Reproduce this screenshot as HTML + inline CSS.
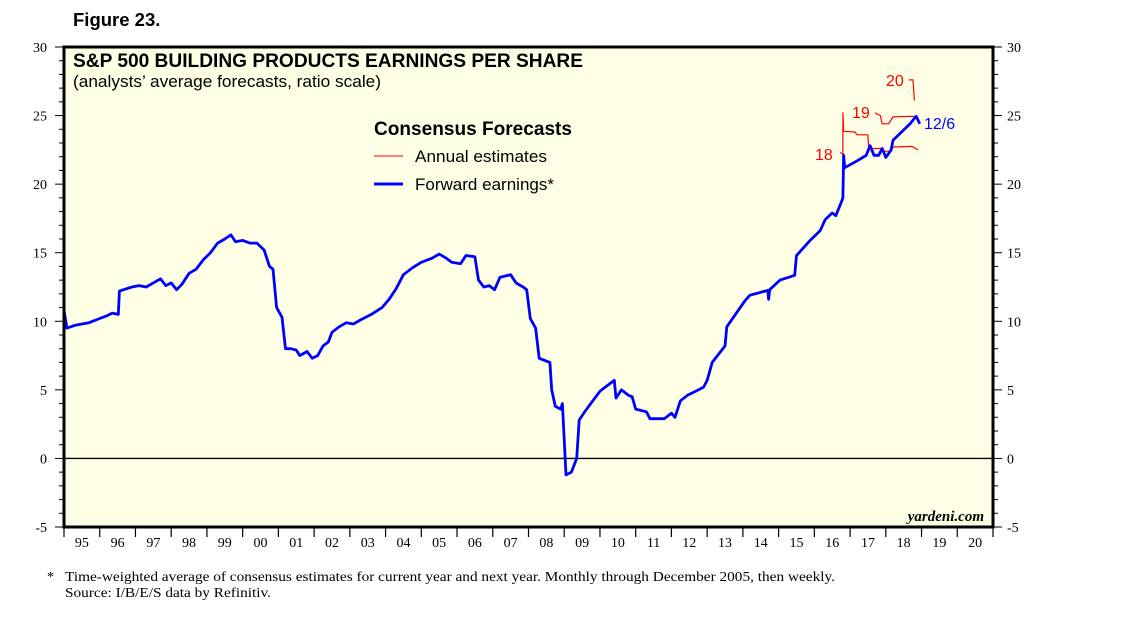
<!DOCTYPE html>
<html><head><meta charset="utf-8"><style>
body{margin:0;background:#fff;}
svg{display:block;font-family:"Liberation Sans",sans-serif;}
.serif{font-family:"Liberation Serif",serif;}
</style></head><body>
<svg id="c" width="1138" height="621" viewBox="0 0 1138 621">
<text x="73" y="26" font-size="18.5" font-weight="bold">Figure 23.</text>
<rect x="64" y="47" width="929" height="480" fill="#FFFFE6" stroke="none"/>
<g id="ax"></g>
<g id="series"></g>
<rect x="64" y="47" width="929" height="480" fill="none" stroke="#000" stroke-width="3"/>
<text x="73" y="67" font-size="19" font-weight="bold" textLength="510" lengthAdjust="spacingAndGlyphs">S&amp;P 500 BUILDING PRODUCTS EARNINGS PER SHARE</text>
<text x="73" y="87" font-size="17" textLength="308" lengthAdjust="spacingAndGlyphs">(analysts’ average forecasts, ratio scale)</text>
<g>
<text x="374" y="135" font-size="19" font-weight="bold" textLength="198" lengthAdjust="spacingAndGlyphs">Consensus Forecasts</text>
<line x1="374" y1="156" x2="403" y2="156" stroke="#f00" stroke-width="1"/>
<text x="415" y="162" font-size="17" textLength="132" lengthAdjust="spacingAndGlyphs">Annual estimates</text>
<line x1="374" y1="184" x2="403" y2="184" stroke="#00f" stroke-width="3"/>
<text x="415" y="190" font-size="17" textLength="139" lengthAdjust="spacingAndGlyphs">Forward earnings*</text>
</g>
<text x="984" y="521" font-size="15" font-style="italic" font-weight="bold" text-anchor="end" class="serif">yardeni.com</text>
<text x="47" y="581" font-size="14" class="serif">*</text>
<text x="65" y="581" font-size="14" class="serif" textLength="770" lengthAdjust="spacingAndGlyphs">Time-weighted average of consensus estimates for current year and next year. Monthly through December 2005, then weekly.</text>
<text x="65" y="597" font-size="14" class="serif" textLength="206" lengthAdjust="spacingAndGlyphs">Source: I/B/E/S data by Refinitiv.</text>
</svg>
<script>
const yTicks=[-5,0,5,10,15,20,25,30];
const yearLabels=["95","96","97","98","99","00","01","02","03","04","05","06","07","08","09","10","11","12","13","14","15","16","17","18","19","20"];
const fwdYears=[1995.0,1995.08,1995.3,1995.5,1995.7,1996.0,1996.2,1996.35,1996.52,1996.55,1996.9,1997.1,1997.3,1997.5,1997.7,1997.85,1998.0,1998.15,1998.3,1998.5,1998.7,1998.9,1999.1,1999.3,1999.5,1999.67,1999.8,2000.0,2000.2,2000.4,2000.6,2000.75,2000.85,2000.95,2001.1,2001.2,2001.35,2001.5,2001.6,2001.8,2001.95,2002.1,2002.25,2002.4,2002.5,2002.7,2002.9,2003.1,2003.3,2003.6,2003.9,2004.1,2004.3,2004.5,2004.75,2005.0,2005.3,2005.5,2005.7,2005.85,2006.1,2006.25,2006.5,2006.6,2006.75,2006.9,2007.05,2007.2,2007.5,2007.65,2007.85,2007.95,2008.05,2008.2,2008.3,2008.6,2008.65,2008.75,2008.9,2008.95,2009.05,2009.2,2009.35,2009.42,2009.6,2009.8,2010.0,2010.25,2010.4,2010.45,2010.6,2010.8,2010.9,2011.0,2011.3,2011.4,2011.8,2012.0,2012.1,2012.25,2012.45,2012.6,2012.9,2013.0,2013.14,2013.5,2013.55,2014.06,2014.2,2014.7,2014.72,2014.75,2015.04,2015.45,2015.5,2015.88,2016.16,2016.3,2016.5,2016.6,2016.77,2016.8,2016.82,2016.85,2017.2,2017.45,2017.56,2017.67,2017.8,2017.9,2018.0,2018.15,2018.2,2018.4,2018.68,2018.8,2018.85,2018.95];
const fwdValues=[10.8,9.5,9.7,9.8,9.9,10.2,10.4,10.6,10.5,12.2,12.5,12.6,12.5,12.8,13.1,12.6,12.8,12.3,12.7,13.5,13.8,14.5,15.0,15.7,16.0,16.3,15.8,15.9,15.7,15.7,15.2,14.0,13.8,11.0,10.3,8.0,8.0,7.9,7.5,7.8,7.3,7.5,8.2,8.5,9.2,9.6,9.9,9.8,10.1,10.5,11.0,11.6,12.4,13.4,13.9,14.3,14.6,14.9,14.6,14.3,14.2,14.8,14.7,13.0,12.5,12.6,12.3,13.2,13.4,12.8,12.5,12.3,10.2,9.5,7.3,7.0,5.0,3.8,3.6,4.0,-1.2,-1.0,0.0,2.8,3.5,4.2,4.9,5.4,5.7,4.4,5.0,4.6,4.5,3.6,3.4,2.9,2.9,3.3,3.0,4.2,4.6,4.8,5.2,5.7,7.0,8.2,9.6,11.5,11.9,12.25,11.6,12.3,13.0,13.35,14.8,15.9,16.6,17.4,17.9,17.7,18.8,19.0,22.1,21.2,21.7,22.1,22.8,22.1,22.1,22.6,21.95,22.5,23.2,23.7,24.4,24.8,24.95,24.4];
const est18Years=[2016.72,2016.8,2016.8,2016.82,2017.14,2017.19,2017.5,2017.52,2017.9,2017.92,2018.12,2018.14,2018.73,2018.9];
const est18Values=[22.3,22.2,25.2,23.85,23.8,23.6,23.6,22.6,22.6,22.4,22.4,22.7,22.75,22.5];
const est19Years=[2017.7,2017.85,2017.9,2018.08,2018.2,2018.73,2018.87];
const est19Values=[25.2,25.0,24.4,24.4,24.9,24.95,24.9];
const est20Years=[2018.65,2018.76,2018.8];
const est20Values=[27.6,27.6,26.1];

const NS="http://www.w3.org/2000/svg";
const X0=64,X1=993,Y0=47,Y1=527,T0=1995,T1=2021,VMIN=-5,VMAX=30;
const xS=t=>X0+(t-T0)/(T1-T0)*(X1-X0);
const yS=v=>Y1-(v-VMIN)/(VMAX-VMIN)*(Y1-Y0);
function mk(tag,at,parent){const e=document.createElementNS(NS,tag);for(const k in at)e.setAttribute(k,at[k]);parent.appendChild(e);return e;}
const ax=document.getElementById('ax'),sr=document.getElementById('series');
for(let v=VMIN;v<=VMAX;v++){
  const y=yS(v),maj=v%5===0;
  const l=mk('line',{x1:X0-(maj?9:5),y1:y,x2:X0,y2:y,stroke:'#000','stroke-width':1},ax);
  
  
  const r=mk('line',{x1:X1,y1:y,x2:X1+(maj?9:5),y2:y,stroke:'#000','stroke-width':1},ax);
  
  
}
yTicks.forEach(v=>{
  const y=yS(v);
  const a=mk('text',{x:47,y:y+5,'font-size':14,'text-anchor':'end','class':'serif'},ax);a.textContent=v;
  
  
  const b=mk('text',{x:1007,y:y+5,'font-size':14,'class':'serif'},ax);b.textContent=v;
  
  
});
const z=mk('line',{x1:X0,y1:yS(0),x2:X1,y2:yS(0),stroke:'#000','stroke-width':1.3},ax);


for(let i=0;i<=yearLabels.length;i++){
  const x=xS(T0+i);
  const t=mk('line',{x1:x,y1:Y1,x2:x,y2:Y1+10,stroke:'#000','stroke-width':1.2},ax);
  
  
}
yearLabels.forEach((s,i)=>{
  const t=mk('text',{x:xS(T0+i+0.5),y:547,'font-size':14,'text-anchor':'middle','class':'serif'},ax);t.textContent=s;
  
  
});
function line(xs,vs,color,w,name){
  const d=xs.map((t,i)=>(i?'L':'M')+xS(t).toFixed(1)+','+yS(vs[i]).toFixed(1)).join('');
  const p=mk('path',{d:d,fill:'none',stroke:color,'stroke-width':w,'stroke-linejoin':'round'},sr);
  
  
}
line(est18Years,est18Values,'#f00',1.2,'annual-estimate-2018');
line(est19Years,est19Values,'#f00',1.2,'annual-estimate-2019');
line(est20Years,est20Values,'#f00',1.2,'annual-estimate-2020');
line(fwdYears,fwdValues,'#00f',2.8,'forward-earnings-line');
function lab(txt,x,y,c,name){const t=mk('text',{x:x,y:y,'font-size':16,fill:c},sr);t.textContent=txt;
  
  }
lab('18',815,160,'#f00','label-18');
lab('19',852,118,'#f00','label-19');
lab('20',886,86,'#f00','label-20');
lab('12/6',924,129,'#00f','label-latest-date');
</script>
</body></html>
